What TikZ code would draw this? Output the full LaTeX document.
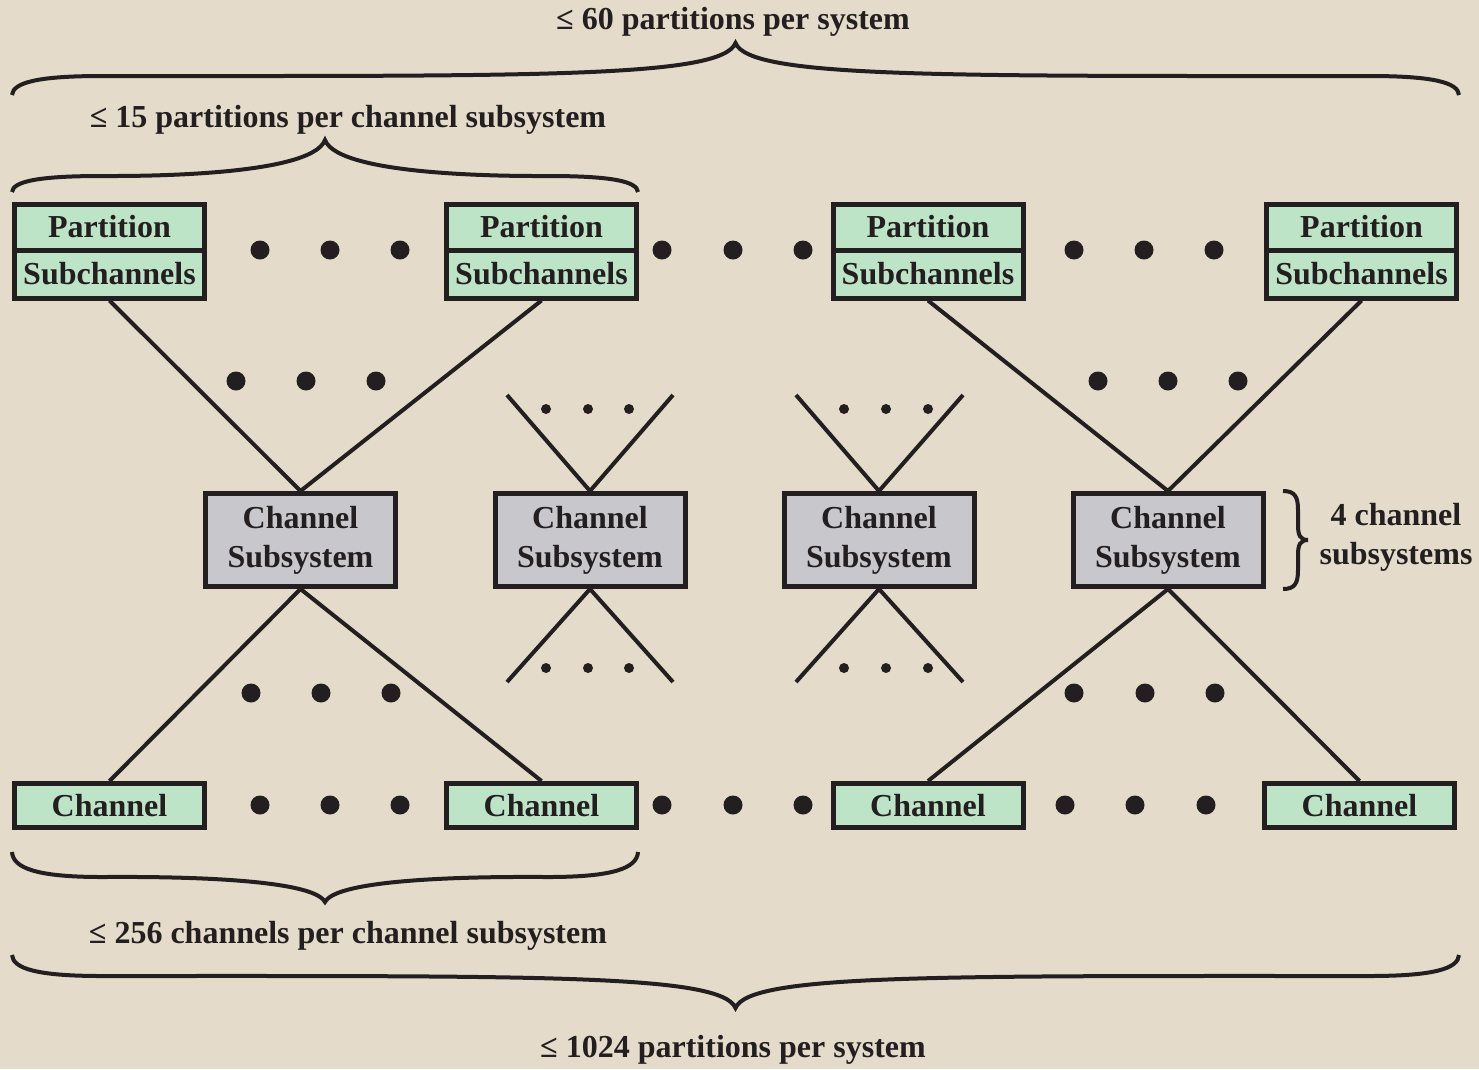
\documentclass[tikz,border=0pt]{standalone}
\usepackage{fontspec}
\setmainfont{Liberation Serif}
\usetikzlibrary{calc}
\definecolor{bg}{RGB}{228,219,202}
\definecolor{grn}{RGB}{190,228,200}
\definecolor{gry}{RGB}{200,200,204}
\definecolor{ink}{RGB}{35,31,32}
\newcommand\hbrc[5]{%
  \pgfmathsetmacro\brm{(#1+#2)/2}%
  \draw[brc] (#1,#3) .. controls (#1+1,{#4+0.35*(#3-#4)}) and (#1+25,#4) .. (#1+90,#4)
     .. controls ({\brm-200},#4) and ({\brm-14},{#4+0.1*(#3-#4)}) .. (\brm,#5)
     .. controls ({\brm+14},{#4+0.1*(#3-#4)}) and ({\brm+200},#4) .. (#2-90,#4)
     .. controls (#2-25,#4) and (#2-1,{#4+0.35*(#3-#4)}) .. (#2,#3);%
}
\begin{document}
\begin{tikzpicture}[x=1pt,y=-1pt,
  every node/.style={font=\fontsize{32}{39}\selectfont\bfseries, text=ink},
  pbox/.style={draw=ink, line width=5pt, fill=grn, minimum width=190pt, inner sep=0pt},
  csbox/.style={draw=ink, line width=5pt, fill=gry, minimum width=190pt, minimum height=93pt, align=center, inner sep=0pt},
  conn/.style={draw=ink, line width=4pt},
  brc/.style={draw=ink, line width=4pt},
  lbl/.style={inner sep=0pt}]
\fill[bg] (0,0) rectangle (1479,1069);
\useasboundingbox (0,0) rectangle (1479,1069);

% partition boxes
\foreach \i/\x in {1/109.5, 2/541.5, 3/928, 4/1361.5}{
  \node[pbox, minimum height=46pt] (pt\i) at (\x,227) {Partition};
  \node[pbox, minimum height=48pt] (ps\i) at (\x,274) {Subchannels};
}
% channel subsystem boxes
\foreach \i/\x in {1/300.5, 2/590, 3/879, 4/1168}{
  \node[csbox] (cs\i) at (\x,540) {Channel\\Subsystem};
}
% channel boxes
\foreach \i/\x in {1/109.5, 2/541.5, 3/928, 4/1359.5}{
  \node[pbox, minimum height=44pt] (ch\i) at (\x,805.5) {Channel};
}

% connectors
\draw[conn] (ps1.south) -- (cs1.north);
\draw[conn] (ps2.south) -- (cs1.north);
\draw[conn] (ps3.south) -- (cs4.north);
\draw[conn] (ps4.south) -- (cs4.north);
\draw[conn] (cs1.south) -- (ch1.north);
\draw[conn] (cs1.south) -- (ch2.north);
\draw[conn] (cs4.south) -- (ch3.north);
\draw[conn] (cs4.south) -- (ch4.north);

\coordinate (a2l) at (507,395); \coordinate (a2r) at (673,395);
\coordinate (b2l) at (507,682); \coordinate (b2r) at (673,682);
\coordinate (a3l) at (796,395); \coordinate (a3r) at (963,395);
\coordinate (b3l) at (796,682); \coordinate (b3r) at (963,682);
\draw[conn] (a2l) -- (cs2.north) -- (a2r);
\draw[conn] (b2l) -- (cs2.south) -- (b2r);
\draw[conn] (a3l) -- (cs3.north) -- (a3r);
\draw[conn] (b3l) -- (cs3.south) -- (b3r);

% big dots
\foreach \x/\y in {260/250,330/250,400/250, 662/250,733/250,803/250, 1074/250,1144/250,1214/250,
                   236/381,306/381,376/381, 1098/381,1168/381,1238/381,
                   251/693,321/693,391/693, 1074/693,1145/693,1215/693,
                   260/805,330/805,400/805, 662/805,733/805,803/805, 1065/805,1135/805,1206/805}
  \fill[ink] (\x,\y) circle (9.5pt);
% small dots
\foreach \x/\y in {546/409,588/409,629/409, 844/409,886/409,928/409,
                   546/668,588/668,629/668, 844/668,886/668,928/668}
  \fill[ink] (\x,\y) circle (5pt);

% braces
\hbrc{12}{1459}{95}{76}{43}
\hbrc{12}{638}{192}{176}{140}
\hbrc{12}{638}{852}{877}{902}
\hbrc{12}{1459}{955}{976}{1008}
\draw[brc] (1283,491) .. controls (1295,491) and (1298,497) .. (1298,510) -- (1298,525)
   .. controls (1298,535) and (1300,540) .. (1308,540)
   .. controls (1300,540) and (1298,545) .. (1298,555) -- (1298,570)
   .. controls (1298,583) and (1295,589) .. (1283,589);

% labels
\node[lbl] (l60) at (733,22) {≤ 60 partitions per system};
\node[lbl] (l15) at (348,120) {≤ 15 partitions per channel subsystem};
\node[lbl] (l256) at (348,936) {≤ 256 channels per channel subsystem};
\node[lbl] (l1024) at (733,1050) {≤ 1024 partitions per system};
\node[lbl, align=center] (l4) at (1396,537) {4 channel\\subsystems};
\end{tikzpicture}
\end{document}
